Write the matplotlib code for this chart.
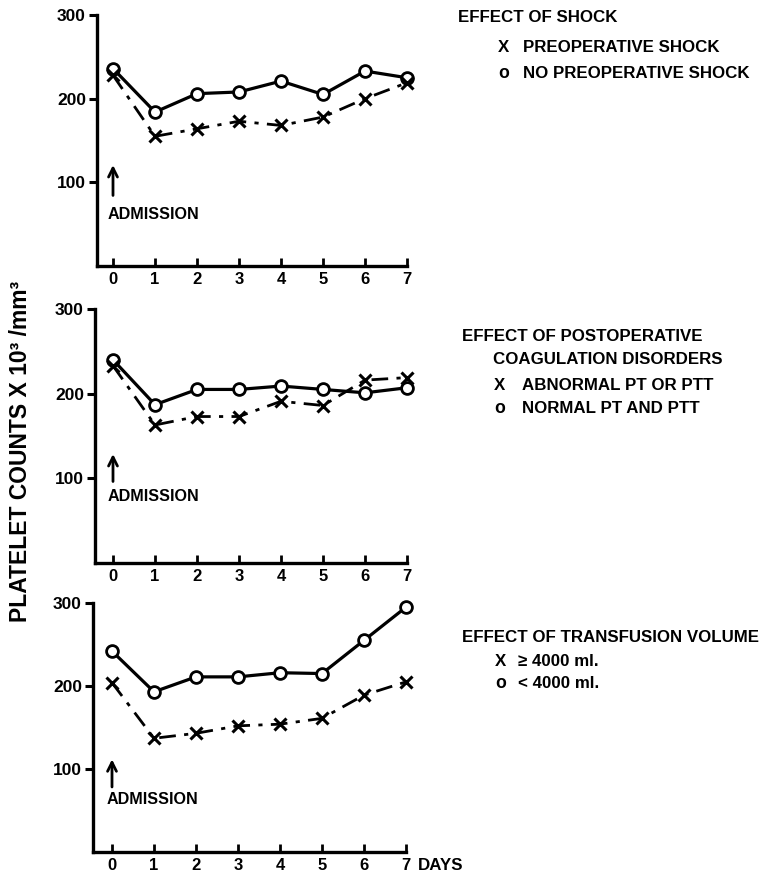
import numpy as np
import matplotlib
matplotlib.use("Agg")
import matplotlib.pyplot as plt

plt.rcParams['font.family'] = ['Liberation Sans', 'DejaVu Sans']
plt.rcParams['font.weight'] = 'bold'

days = [0, 1, 2, 3, 4, 5, 6, 7]

# platelet counts (x 10^3 / mm^3) per day for each comparison
shock_yes = [228, 155, 164, 173, 168, 178, 200, 219]
shock_no = [236, 184, 206, 208, 221, 205, 233, 225]

coag_abnormal = [233, 163, 173, 173, 191, 186, 216, 219]
coag_normal = [240, 187, 205, 205, 209, 205, 201, 207]

transf_high = [204, 137, 143, 152, 154, 161, 189, 205]
transf_low = [242, 193, 211, 211, 216, 215, 255, 295]

titles = [["EFFECT OF SHOCK"],
          ["EFFECT OF POSTOPERATIVE", "COAGULATION DISORDERS"],
          ["EFFECT OF TRANSFUSION VOLUME"]]
x_labels = ["PREOPERATIVE SHOCK", "ABNORMAL PT OR PTT", "\u2265 4000 ml."]
o_labels = ["NO PREOPERATIVE SHOCK", "NORMAL PT AND PTT", "< 4000 ml."]

# admission arrow: (arrow base, arrow tip, text y) in data units
admission = [(81, 124, 62), (93, 132, 79), (75, 115, 63)]

W, H = 769, 874
fig = plt.figure(figsize=(W / 100, H / 100), dpi=100)


def fx(px):
    return px / W


def fy(py):
    return 1 - py / H


# panel geometry in pixels: (spine x, day 0 x, day 7 x, top y, bottom y)
panels = [(97, 113, 407, 15, 266), (95, 113, 407, 309, 563),
          (93, 112, 406, 603, 852)]
series = [(shock_yes, shock_no), (coag_abnormal, coag_normal), (transf_high, transf_low)]

# legend rows in pixels: (title x, mark x, text x, row ys)
legends = [(458, 498, 523, [17, 47, 73]),
           (462, 494, 522, [337, 385, 408]),
           (462, 495, 518, [637, 662, 683])]

LEG_FS = 12.2

for i, (geo, (xs, os_)) in enumerate(zip(panels, series)):
    sx, d0, d7, t, b = geo
    ax = fig.add_axes([fx(sx), fy(b), fx(d7 - sx), (b - t) / H])
    ax.plot(days, os_, color='black', lw=2.3, marker='o', ms=8.5,
            mfc='white', mec='black', mew=2.0, zorder=3, clip_on=False)
    ax.plot(days, xs, color='black', lw=2.0, dashes=(6, 3, 1.5, 3),
            marker='x', ms=8, mew=2.2, zorder=3, clip_on=False)
    ppd = (d7 - d0) / 7
    ax.set_xlim(-(d0 - sx) / ppd, 7.0)
    ax.set_ylim(0, 300)
    ax.set_xticks(days)
    ax.set_yticks([100, 200, 300])
    ax.tick_params(axis='x', direction='in', length=6, width=2.0, pad=4,
                   labelsize=12)
    ax.tick_params(axis='y', direction='out', length=6, width=2.2, pad=2,
                   labelsize=12.5)
    for lab in ax.get_xticklabels() + ax.get_yticklabels():
        lab.set_fontweight('bold')
    for s in ['top', 'right']:
        ax.spines[s].set_visible(False)
    for s in ['left', 'bottom']:
        ax.spines[s].set_linewidth(2.4)
    ax.patch.set_alpha(0)

    a0, a1, ty = admission[i]
    ax.annotate('', xy=(0, a1), xytext=(0, a0),
                arrowprops=dict(arrowstyle='->', lw=2.0, color='black',
                                mutation_scale=16))
    ax.text(-0.12, ty, 'ADMISSION', fontsize=11.6, fontweight='bold',
            va='center', ha='left')

    # legend block at the right
    x_title, x_mark, x_text, rows = legends[i]
    fig.text(fx(x_title), fy(rows[0]), titles[i][0], fontsize=LEG_FS,
             fontweight='bold', va='center')
    if len(titles[i]) > 1:
        fig.text(fx(493), fy(359), titles[i][1], fontsize=LEG_FS,
                 fontweight='bold', va='center')
    fig.text(fx(x_mark), fy(rows[1]), 'X', fontsize=LEG_FS, fontweight='bold',
             va='center')
    fig.text(fx(x_text), fy(rows[1]), x_labels[i], fontsize=LEG_FS,
             fontweight='bold', va='center')
    fig.text(fx(x_mark), fy(rows[2]), 'o', fontsize=LEG_FS + 0.5,
             fontweight='bold', va='center')
    fig.text(fx(x_text), fy(rows[2]), o_labels[i], fontsize=LEG_FS,
             fontweight='bold', va='center')

fig.text(fx(418), fy(865), 'DAYS', fontsize=LEG_FS, fontweight='bold',
         va='center')
fig.text(fx(21), fy(451), 'PLATELET COUNTS X 10\u00b3 /mm\u00b3', fontsize=16.5,
         fontweight='bold', rotation=90, va='center', ha='center')

fig.savefig('out.png', dpi=100)
